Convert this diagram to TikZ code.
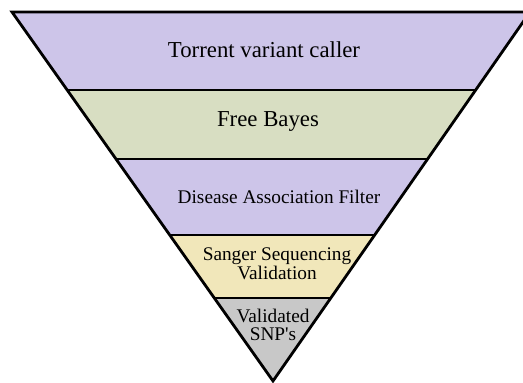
\documentclass[tikz,border=0pt]{standalone}
\usepackage{fontspec}
\setmainfont{Liberation Serif}
\definecolor{lavender}{RGB}{205,197,233}
\definecolor{sage}{RGB}{216,222,194}
\definecolor{cream}{RGB}{241,231,186}
\definecolor{stone}{RGB}{200,200,200}

\begin{document}
\begin{tikzpicture}[x=1pt, y=-1pt,
    bigtxt/.style={font=\fontsize{22.8}{25}\selectfont, align=center},
    smalltxt/.style={font=\fontsize{19.3}{17.5}\selectfont, align=center},
    edge/.style={black, line width=2.8pt}]
\useasboundingbox (0,0) rectangle (523,383);

%%%%------------Trakt----------------%%
\coordinate (topleft)  at (12,12)  ;
\coordinate (topright) at (530,12) ;
\coordinate (apex)     at (273,381);

\begin{scope}
\clip (topleft) -- (topright) -- (apex) -- cycle;
\fill [lavender]	(0,12)  rectangle (540,90)		;
\fill [sage]		(0,90)  rectangle (540,159)		;
\fill [lavender]	(0,159) rectangle (540,235)		;
\fill [cream]		(0,235) rectangle (540,298)		;
\fill [stone]		(0,298) rectangle (540,390)		;

%%%----------Skillelinjer---------%%%
\draw [edge]	(0,90)  -- (540,90)		;
\draw [edge]	(0,159) -- (540,159)	;
\draw [edge]	(0,235) -- (540,235)	;
\draw [edge]	(0,298) -- (540,298)	;
\end{scope}

\draw [edge, line join=miter]	(topleft) -- (topright) -- (apex) -- cycle	;

%%%-------------Tekst-------------%%%
\node [bigtxt]   (torrent)   at (264,50)  {Torrent variant caller}			;
\node [bigtxt]   (freebayes) at (268,121) {Free Bayes}						;
\node [smalltxt] (disease)   at (279,197) {Disease Association Filter}		;
\node [smalltxt] (sanger)    at (277,264) {Sanger Sequencing\\Validation}	;
\node [smalltxt] (validated) at (273,325) {Validated\\SNP\textquotesingle s}	;
\end{tikzpicture}
\end{document}
